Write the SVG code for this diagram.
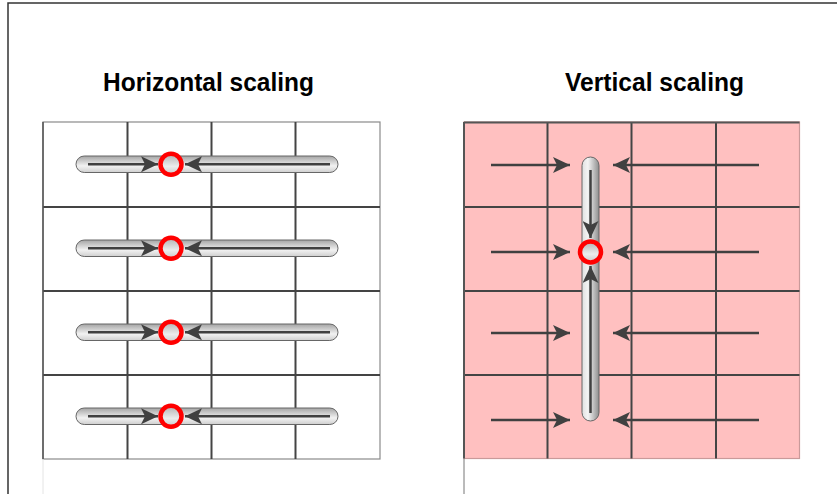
<svg xmlns="http://www.w3.org/2000/svg" width="837" height="494" viewBox="0 0 837 494">
  <style>
    .title { font-family: "Liberation Sans", Arial, sans-serif; font-weight: bold; font-size: 25px; fill: #000; }
    .grid { stroke: #444; stroke-width: 2; fill: none; }
    .arrow { stroke: #404040; stroke-width: 2.5; fill: none; }
    .hcap { fill: url(#hgrad); stroke: #666; stroke-width: 1; }
    .vcap { fill: url(#vgrad); stroke: #666; stroke-width: 1; }
    .pivot { fill: url(#cgrad); stroke: #ff0000; stroke-width: 4.5; }
  </style>
  <defs>
    <linearGradient id="hgrad" x1="0" y1="0" x2="0" y2="1">
      <stop offset="0" stop-color="#a4a4a4"/>
      <stop offset="0.6" stop-color="#f2f2f2"/>
      <stop offset="1" stop-color="#cfcfcf"/>
    </linearGradient>
    <linearGradient id="vgrad" x1="0" y1="0" x2="1" y2="0">
      <stop offset="0" stop-color="#e0e0e0"/>
      <stop offset="0.35" stop-color="#f4f4f4"/>
      <stop offset="1" stop-color="#8e8e8e"/>
    </linearGradient>
    <linearGradient id="cgrad" x1="0" y1="0" x2="0" y2="1">
      <stop offset="0" stop-color="#b0b0b0"/>
      <stop offset="0.6" stop-color="#ececec"/>
      <stop offset="1" stop-color="#c8c8c8"/>
    </linearGradient>
    <marker id="head" viewBox="0 0 17 16" refX="17" refY="8" markerWidth="17" markerHeight="16" markerUnits="userSpaceOnUse" orient="auto">
      <path d="M0,0 L17,8 L0,16 L4,8 Z" fill="#404040"/>
    </marker>
  </defs>

  <!-- outer frame -->
  <path d="M8,494 V3 H837" fill="none" stroke="#333" stroke-width="1.5"/>

  <!-- titles -->
  <text class="title" x="208.5" y="91" text-anchor="middle" textLength="211" lengthAdjust="spacingAndGlyphs">Horizontal scaling</text>
  <text class="title" x="654.5" y="91" text-anchor="middle" textLength="179" lengthAdjust="spacingAndGlyphs">Vertical scaling</text>

  <!-- left grid -->
  <g id="grid-horizontal">
    <rect x="43" y="122" width="337" height="337" fill="#fff" stroke="#8a8a8a" stroke-width="1.2"/>
    <path class="grid" d="M43,207 H380 M43,291 H380 M43,375 H380 M127.5,122 V459 M211.5,122 V459 M295.5,122 V459"/>
    <path d="M43,122 V459" stroke="#555" stroke-width="1.5"/>
    <path d="M43,459 V494" stroke="#e4e4e4" stroke-width="1"/>
  </g>

  <!-- right grid -->
  <g id="grid-vertical">
    <rect x="464" y="122" width="335.5" height="336.5" fill="#ffc0c0" stroke="#c99a9a" stroke-width="1.2"/>
    <path class="grid" d="M464,207 H799.5 M464,291 H799.5 M464,375 H799.5 M547.5,122 V458.5 M631.5,122 V458.5 M716,122 V458.5"/>
    <path d="M464,122.5 H799.5" stroke="#555" stroke-width="2"/>
    <path d="M464,122 V458.5" stroke="#555" stroke-width="2"/>
    <path d="M464,458.5 V494" stroke="#777" stroke-width="1"/>
  </g>

  <!-- horizontal bars, one per row -->
  <g id="bar-row1">
    <rect class="hcap" x="76" y="156" width="262" height="16.5" rx="8.25"/>
  </g>
  <g id="bar-row2">
    <rect class="hcap" x="76" y="240" width="262" height="16.5" rx="8.25"/>
  </g>
  <g id="bar-row3">
    <rect class="hcap" x="76" y="324" width="262" height="16.5" rx="8.25"/>
  </g>
  <g id="bar-row4">
    <rect class="hcap" x="76" y="408" width="262" height="16.5" rx="8.25"/>
  </g>

  <!-- vertical bar -->
  <g id="bar-vertical">
    <rect class="vcap" x="582" y="157" width="17" height="264" rx="8.5"/>
  </g>

  <!-- arrows -->
  <g id="connectors">
    <line class="arrow" x1="88" y1="164.3" x2="158" y2="164.3" marker-end="url(#head)"/>
    <line class="arrow" x1="330" y1="164.3" x2="185" y2="164.3" marker-end="url(#head)"/>
    <line class="arrow" x1="88" y1="248.3" x2="158" y2="248.3" marker-end="url(#head)"/>
    <line class="arrow" x1="330" y1="248.3" x2="185" y2="248.3" marker-end="url(#head)"/>
    <line class="arrow" x1="88" y1="332.3" x2="158" y2="332.3" marker-end="url(#head)"/>
    <line class="arrow" x1="330" y1="332.3" x2="185" y2="332.3" marker-end="url(#head)"/>
    <line class="arrow" x1="88" y1="416.3" x2="158" y2="416.3" marker-end="url(#head)"/>
    <line class="arrow" x1="330" y1="416.3" x2="185" y2="416.3" marker-end="url(#head)"/>

    <line class="arrow" x1="491" y1="165" x2="570" y2="165" marker-end="url(#head)"/>
    <line class="arrow" x1="759" y1="165" x2="613" y2="165" marker-end="url(#head)"/>
    <line class="arrow" x1="491" y1="252" x2="570" y2="252" marker-end="url(#head)"/>
    <line class="arrow" x1="759" y1="252" x2="613" y2="252" marker-end="url(#head)"/>
    <line class="arrow" x1="491" y1="333" x2="570" y2="333" marker-end="url(#head)"/>
    <line class="arrow" x1="759" y1="333" x2="613" y2="333" marker-end="url(#head)"/>
    <line class="arrow" x1="491" y1="420" x2="570" y2="420" marker-end="url(#head)"/>
    <line class="arrow" x1="759" y1="420" x2="613" y2="420" marker-end="url(#head)"/>

    <line class="arrow" x1="590.5" y1="170" x2="590.5" y2="238" marker-end="url(#head)"/>
    <line class="arrow" x1="590.5" y1="413" x2="590.5" y2="266" marker-end="url(#head)"/>
  </g>

  <!-- pivot points -->
  <g id="pivot-row1"><circle class="pivot" cx="171" cy="164.3" r="10.5"/></g>
  <g id="pivot-row2"><circle class="pivot" cx="171" cy="248.3" r="10.5"/></g>
  <g id="pivot-row3"><circle class="pivot" cx="171" cy="332.3" r="10.5"/></g>
  <g id="pivot-row4"><circle class="pivot" cx="171" cy="416.3" r="10.5"/></g>
  <g id="pivot-vertical"><circle class="pivot" cx="590.5" cy="252" r="10.5"/></g>
</svg>
